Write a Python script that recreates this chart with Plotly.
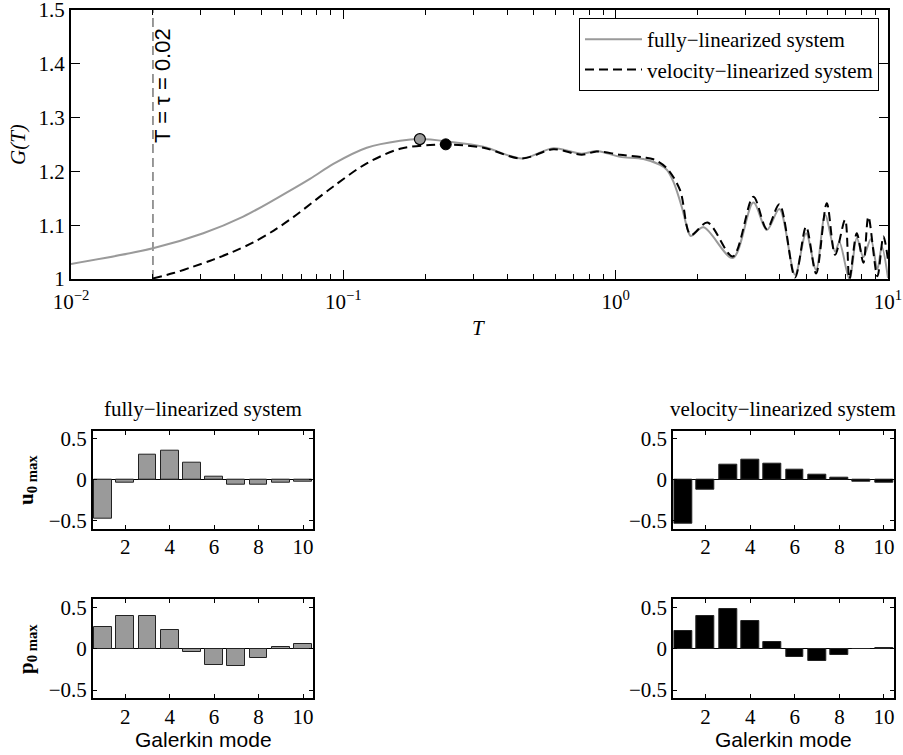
import plotly.graph_objects as go
import numpy as np

# ---------------- data ----------------
T_full = [0.01, 0.02, 0.0306, 0.0429, 0.0569, 0.0754, 0.0919, 0.1219, 0.1616, 0.191,
          0.2465, 0.3267, 0.452, 0.5905, 0.7508, 0.8522, 0.94, 1.038, 1.264, 1.456,
          1.541, 1.629, 1.749, 1.834, 1.887, 2.100, 2.692, 3.204, 3.588, 3.992,
          4.558, 5.003, 5.445, 5.875, 6.394, 6.631, 7.216, 7.681, 8.122, 8.646,
          9.143, 9.489, 10.0]
G_full = [1.028, 1.057, 1.085, 1.116, 1.150, 1.186, 1.214, 1.244, 1.257, 1.260,
          1.255, 1.246, 1.224, 1.243, 1.233, 1.238, 1.233, 1.227, 1.223, 1.212,
          1.203, 1.181, 1.134, 1.094, 1.080, 1.096, 1.039, 1.142, 1.091, 1.130,
          1.008, 1.085, 1.017, 1.119, 1.051, 1.069, 1.000, 1.076, 1.041, 1.074,
          1.018, 1.060, 1.002]

T_vel = [0.02, 0.0238, 0.0281, 0.0333, 0.0395, 0.0467, 0.0555, 0.0655, 0.0919, 0.1219,
         0.1616, 0.2082, 0.2377, 0.3267, 0.452, 0.5905, 0.7508, 0.8522, 1.038, 1.264,
         1.376, 1.541, 1.724, 1.887, 2.172, 2.692, 3.204, 3.588, 3.992, 4.558,
         5.003, 5.445, 5.96, 6.394, 6.958, 7.216, 7.681, 8.122, 8.472, 9.143,
         9.619, 10.0]
G_vel = [1.001, 1.011, 1.023, 1.036, 1.051, 1.068, 1.090, 1.115, 1.172, 1.215,
         1.242, 1.249, 1.2503, 1.244, 1.224, 1.241, 1.231, 1.237, 1.231, 1.226,
         1.2225, 1.206, 1.165, 1.082, 1.105, 1.042, 1.153, 1.093, 1.139, 1.003,
         1.097, 1.010, 1.141, 1.045, 1.110, 1.000, 1.085, 1.030, 1.116, 1.005,
         1.079, 1.035]

tau = 0.02

modes = [1, 2, 3, 4, 5, 6, 7, 8, 9, 10]
u_full = [-0.47, -0.03, 0.31, 0.35, 0.205, 0.037, -0.065, -0.065, -0.04, -0.025]
u_vel = [-0.54, -0.118, 0.19, 0.245, 0.195, 0.12, 0.068, 0.028, -0.022, -0.035]
p_full = [0.26, 0.395, 0.40, 0.228, -0.035, -0.195, -0.21, -0.11, 0.02, 0.06]
p_vel = [0.215, 0.39, 0.485, 0.33, 0.085, -0.105, -0.145, -0.075, -0.005, 0.005]

x_major = [0.01, 0.1, 1, 10]
x_major_text = ["10<sup>\u22122</sup>", "10<sup>\u22121</sup>", "10<sup>0</sup>", "10<sup>1</sup>"]
y_top_ticks = [1, 1.1, 1.2, 1.3, 1.4, 1.5]
y_top_text = ["1", "1.1", "1.2", "1.3", "1.4", "1.5"]
bar_yticks = [-0.5, 0, 0.5]
bar_ytext = ["\u22120.5", "0", "0.5"]
bar_xticks = [2, 4, 6, 8, 10]

# ---------------- layout helpers ----------------
W, H = 903, 755
def fx(p):
    return p / W
def fy(p):
    return 1 - p / H

SERIF = "Liberation Serif"
SANS = "Liberation Sans"
FS = 21
GRAY = "#9a9a9a"

fig = go.Figure()

# top plot
fig.add_trace(go.Scatter(x=[tau, tau], y=[1, 1.5], mode="lines",
                         line=dict(color="#333333", width=1, dash="9px,5px"),
                         showlegend=False, xaxis="x", yaxis="y", hoverinfo="skip"))
fig.add_trace(go.Scatter(x=T_full, y=G_full, mode="lines", name="fully\u2212linearized system",
                         line=dict(color=GRAY, width=2, shape="spline", smoothing=0.9),
                         xaxis="x", yaxis="y"))
fig.add_trace(go.Scatter(x=T_vel, y=G_vel, mode="lines", name="velocity\u2212linearized system",
                         line=dict(color="black", width=2, dash="9px,5px", shape="spline", smoothing=0.9),
                         xaxis="x", yaxis="y"))
i_f = int(np.argmax(G_full))
i_v = int(np.argmax(G_vel))
fig.add_trace(go.Scatter(x=[T_full[i_f]], y=[G_full[i_f]], mode="markers",
                         marker=dict(size=11, color=GRAY, line=dict(color="black", width=1.2)),
                         showlegend=False, xaxis="x", yaxis="y"))
fig.add_trace(go.Scatter(x=[T_vel[i_v]], y=[G_vel[i_v]], mode="markers",
                         marker=dict(size=11, color="black", line=dict(color="black", width=1)),
                         showlegend=False, xaxis="x", yaxis="y"))

# bar plots
bar_specs = [
    (u_full, GRAY, "x2", "y2"),
    (u_vel, "black", "x3", "y3"),
    (p_full, GRAY, "x4", "y4"),
    (p_vel, "black", "x5", "y5"),
]
for vals, col, xa, ya in bar_specs:
    fig.add_trace(go.Bar(x=modes, y=vals, width=0.8,
                         marker=dict(color=col, line=dict(color="#222222", width=1)),
                         showlegend=False, xaxis=xa, yaxis=ya))

minor_vals = [m * 10.0 ** d for d in (-2, -1, 0) for m in range(2, 10)]

axis_common = dict(showline=True, linecolor="black", linewidth=2, mirror="ticks",
                   ticks="inside", tickcolor="black", showgrid=False, zeroline=False,
                   automargin=False, ticklabeloverflow="allow",
                   tickfont=dict(family=SERIF, size=FS, color="black"))

layout = dict(
    width=W, height=H, margin=dict(l=0, r=0, t=0, b=0, autoexpand=False),
    paper_bgcolor="white", plot_bgcolor="white",
    font=dict(family=SERIF, size=FS, color="black"),
    bargap=0,
    showlegend=True,
    legend=dict(x=fx(879), y=fy(18), xanchor="right", yanchor="top",
                bordercolor="black", borderwidth=1, bgcolor="white",
                font=dict(family=SERIF, size=FS, color="black"),
                tracegroupgap=0, itemwidth=57),
    xaxis=dict(axis_common, type="log", range=[-2, 1], domain=[fx(71), fx(888)], anchor="y",
               tickmode="array", tickvals=x_major, ticktext=x_major_text, ticklen=9,
               ticklabelstandoff=3,
               minor=dict(tickmode="array", tickvals=minor_vals, ticks="inside", ticklen=5,
                          tickcolor="black", showgrid=False)),
    yaxis=dict(axis_common, range=[1, 1.5], domain=[fy(279), fy(10)], anchor="x",
               tickmode="array", tickvals=y_top_ticks, ticktext=y_top_text, ticklen=9),
)

bar_x_dom = {"L": [fx(93), fx(313)], "R": [fx(673.3), fx(894)]}
bar_y_dom = {"U": [fy(529), fy(430.7)], "P": [fy(698.3), fy(599)]}
panels = [("2", "L", "U"), ("3", "R", "U"), ("4", "L", "P"), ("5", "R", "P")]
for n, xs, ys in panels:
    layout["xaxis" + n] = dict(axis_common, range=[0.55, 10.45], domain=bar_x_dom[xs],
                               anchor="y" + n, tickmode="array", tickvals=bar_xticks,
                               ticklen=4, ticklabelstandoff=-2)
    layout["yaxis" + n] = dict(axis_common, range=[-0.6, 0.6], domain=bar_y_dom[ys],
                               anchor="x" + n, tickmode="array", tickvals=bar_yticks,
                               ticktext=bar_ytext, ticklen=4,
                               zeroline=True, zerolinecolor="black", zerolinewidth=1)

fig.update_layout(**layout)

ann = []
def add_text(text, x, y, size=FS, family=SERIF, angle=0, xanchor="center", yanchor="middle"):
    ann.append(dict(text=text, x=fx(x), y=fy(y), xref="paper", yref="paper",
                    showarrow=False, textangle=angle, xanchor=xanchor, yanchor=yanchor,
                    font=dict(family=family, size=size, color="black")))

add_text("<i>G(T)</i>", 18, 145, angle=-90)
add_text("<i>T</i>", 479, 328)
add_text("T = \u03c4 = 0.02", 163, 86, size=22, family=SANS, angle=-90)
add_text("fully\u2212linearized system", 203, 409)
add_text("velocity\u2212linearized system", 783, 409)
add_text("<b>u<sub>0 max</sub></b>", 27, 480, angle=-90)
add_text("<b>p<sub>0 max</sub></b>", 27, 649, angle=-90)
add_text("Galerkin mode", 203, 739, family=SANS)
add_text("Galerkin mode", 783, 739, family=SANS)
fig.update_layout(annotations=ann)

fig.write_html("out.html")
